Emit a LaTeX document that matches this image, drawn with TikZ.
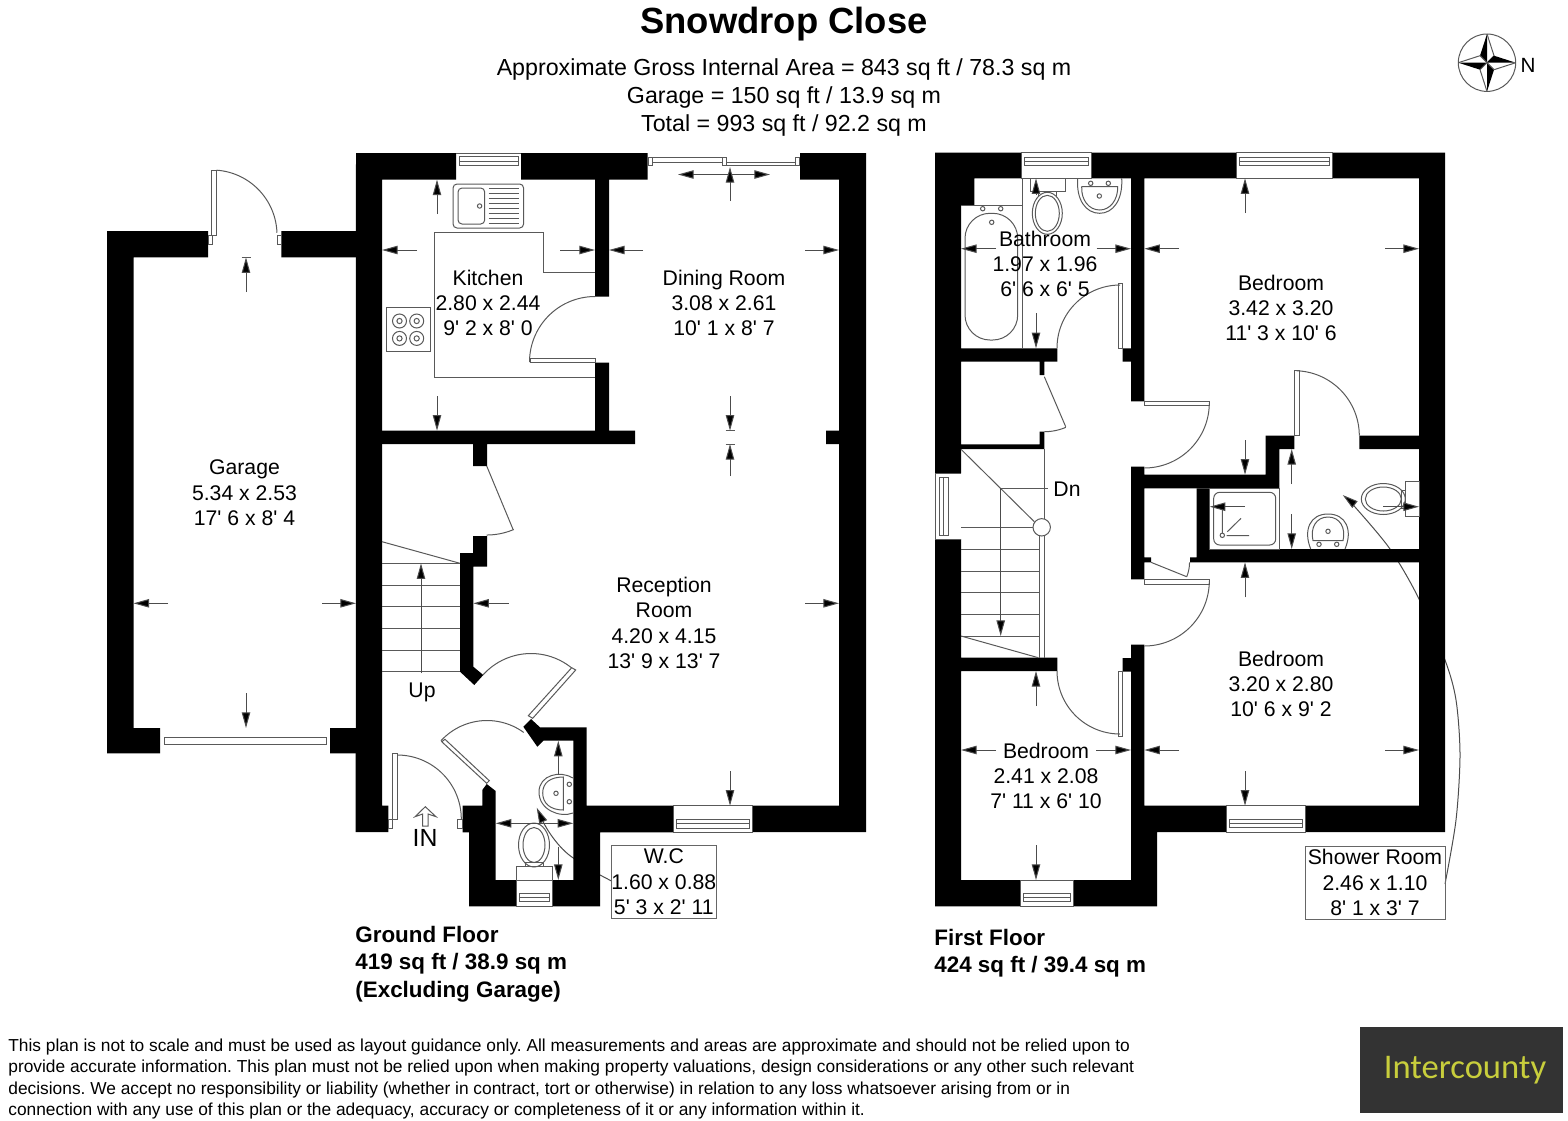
\documentclass[tikz,border=0pt]{standalone}
\usepackage{fontspec}
\setmainfont{Liberation Sans}
\newfontfamily\planfont{Liberation Sans}
\newfontfamily\logofont{Carlito}
\usetikzlibrary{arrows.meta}
\definecolor{logobg}{HTML}{333333}
\definecolor{logotext}{HTML}{C8CE3C}
\tikzset{
  wall/.style={fill=black},
  planline/.style={draw=black!65,line width=0.5pt},
  dimline/.style={draw=black!70,line width=0.5pt,-{Triangle[length=7.8pt,width=4.2pt,fill=black]}},
  dimboth/.style={draw=black!70,line width=0.5pt,{Triangle[length=7.8pt,width=4.2pt,fill=black]}-{Triangle[length=7.8pt,width=4.2pt,fill=black]}},
  roomlabel/.style={font=\planfont\fontsize{10.6}{12.7}\selectfont,align=center,inner sep=0pt},
  boxlabel/.style={roomlabel,draw=black!60,line width=0.5pt,minimum height=36.5pt},
  floorlabel/.style={font=\bfseries\fontsize{11.2}{13.8}\selectfont,align=left,inner sep=0pt,anchor=west}
}
\newcommand{\dimarrow}[4]{\draw[dimline] (#1,#2)--(#3,#4);}
\newcommand{\doorarc}[5]{\draw[planline,domain=#3:#4,samples=30,variable=\t] plot ({#1+#5*cos(\t)},{#2+#5*sin(\t)});}
\newcommand{\winh}[4]{
  \draw[planline] (#1,#3) rectangle (#2,#4);
}
\newcommand{\winbar}[4]{
  \draw[planline] (#1+3,#3) rectangle (#2-3,#4) (#1+3,{(#3+#4)/2})--(#2-3,{(#3+#4)/2});
}
\newcommand{\ringhob}[2]{\draw[planline] (#1,#2) circle [radius=7] (#1,#2) circle [radius=2.6];}
\newcommand{\tap}[2]{\draw[planline] (#1,#2) circle [radius=2.2];}

\begin{document}
\begin{tikzpicture}[x=0.5pt,y=-0.5pt]
  \useasboundingbox (0,0) rectangle (1568,1120);

  \node[font=\bfseries\fontsize{18.2}{22}\selectfont,inner sep=0pt] (title) at (784,24) {Snowdrop Close};
  \node[font=\fontsize{11.6}{14}\selectfont,align=center,inner sep=0pt] (areas) at (784,97) {Approximate Gross Internal Area = 843 sq ft / 78.3 sq m\\Garage = 150 sq ft / 13.9 sq m\\Total = 993 sq ft / 92.2 sq m};

  \begin{scope}[shift={(1487,62.7)}]
    \draw[planline] (0,0) circle [radius=28.7];
    \foreach \a in {0,90,180,270} {
      \begin{scope}[rotate=\a]
        \fill[black] (0,-28.7)--(-7,-7)--(0,0)--cycle;
        \draw[planline] (0,-28.7)--(7,-7)--(0,0);
      \end{scope}
    }
  \end{scope}
  \node[font=\fontsize{10.3}{12}\selectfont,inner sep=0pt] (north) at (1528,65) {N};

  \draw[dimline] (611.5,881)--(600,875)--(573.3,858) .. controls (558,848) and (546,828) .. (536.7,807.7);
  \draw[dimline] plot[smooth] coordinates {(1445,884) (1456,820) (1460,755) (1456,700) (1445,660) (1418,597) (1390,549) (1355,507) (1342.7,495)};

  \fill[wall] (356,153)--(456,153)--(456,179.6)--(382,179.6)--(382,805.7)--(388.3,805.7)--(388.3,832)--(355.7,832)--cycle;
  \fill[wall] (521,153)--(647.6,153)--(647.6,179.6)--(609,179.6)--(609,296.5)--(595,296.5)--(595,179.6)--(521,179.6)--cycle;
  \fill[wall] (595,362.5)--(609,362.5)--(609,430.7)--(635,430.7)--(635,444)--(487,444)--(487,466)--(473,466)--(473,444)--(382,444)--(382,430.7)--(595,430.7)--cycle;
  \fill[wall] (800,153)--(866,153)--(866,832)--(752,832)--(752,805.7)--(839,805.7)--(839,444)--(826,444)--(826,430.7)--(839,430.7)--(839,179.6)--(800,179.6)--cycle;
  \fill[wall] (107,231)--(208,231)--(208,257.3)--(133.5,257.3)--(133.5,728)--(160,728)--(160,753.3)--(107,753.3)--cycle;
  \fill[wall] (281.3,231) rectangle (356,257.3) (330,728) rectangle (356,753.3);
  \fill[wall] (473,536)--(487,536)--(487,566.7)--(473.3,566.7)--(473.3,666.7)--(483.3,675)--(474.3,685)--(460,671.7)--(460,553)--(473,553)--cycle;
  \fill[wall] (462.7,805.7)--(482.3,805.7)--(482.3,790)--(486.7,784)--(495.7,791)--(495.7,880)--(516.7,880)--(516.7,906.3)--(469,906.3)--(469,832.3)--(462.7,832.3)--cycle;
  \fill[wall] (523.3,726.7)--(531,719)--(540,727.3)--(586.7,727.3)--(586.7,805.7)--(673.3,805.7)--(673.3,832.3)--(600,832.3)--(600,906.3)--(552,906.3)--(552,880)--(573.3,880)--(573.3,740.7)--(543.3,740.7)--(537.3,746.7)--cycle;

  \fill[wall] (935,152.5)--(1021.7,152.5)--(1021.7,178.3)--(974.3,178.3)--(974.3,205)--(961,205)--(961,348.3)--(1057.3,348.3)--(1057.3,361.7)--(1044.3,361.7)--(1044.3,375)--(1039.7,375)--(1039.7,361.7)--(961,361.7)--(961,444.3)--(1039.7,444.3)--(1039.7,431.7)--(1044.3,431.7)--(1044.3,449)--(961,449)--(961,473.3)--(935,473.3)--cycle;
  \fill[wall] (935,539)--(961,539)--(961,657.7)--(1057.3,657.7)--(1057.3,671)--(961,671)--(961,880)--(1020,880)--(1020,906.3)--(935,906.3)--cycle;
  \fill[wall] (1091.7,152.5)--(1236,152.5)--(1236,178.3)--(1144.3,178.3)--(1144.3,401.3)--(1131,401.3)--(1131,361.7)--(1122.7,361.7)--(1122.7,348.3)--(1131,348.3)--(1131,178.3)--(1091.7,178.3)--cycle;
  \fill[wall] (1332,152.5)--(1445,152.5)--(1445,832)--(1305,832)--(1305,805.7)--(1419,805.7)--(1419,562.3)--(1190,562.3)--(1190,557.3)--(1196.7,557.3)--(1196.7,488.3)--(1209.7,488.3)--(1209.7,549)--(1419,549)--(1419,449)--(1359.3,449)--(1359.3,435.7)--(1419,435.7)--(1419,178.3)--(1332,178.3)--cycle;
  \fill[wall] (1131,466.7)--(1144.3,466.7)--(1144.3,474.7)--(1265.7,474.7)--(1265.7,435.7)--(1294.3,435.7)--(1294.3,449)--(1279.3,449)--(1279.3,488.3)--(1144.3,488.3)--(1144.3,557.3)--(1151,557.3)--(1151,562.3)--(1144.3,562.3)--(1144.3,579.3)--(1131,579.3)--cycle;
  \fill[wall] (1131,644.7)--(1144.3,644.7)--(1144.3,805.7)--(1226,805.7)--(1226,832)--(1157,832)--(1157,906.3)--(1073,906.3)--(1073,880)--(1131,880)--(1131,671.5)--(1122.7,671.5)--(1122.7,658)--(1131,658)--cycle;

  \draw[planline] (456,153)--(521,153) (459,156.5) rectangle (518,165.5) (459,161)--(518,161);
  \winh{673.3}{752}{805.7}{832.3}\winbar{673.3}{752}{819.3}{828.3}
  \winh{516.7}{552}{866.7}{906.3}\winbar{516.7}{552}{893.3}{901.7}
  \winh{1021.7}{1091.7}{152.5}{178.3}\winbar{1021.7}{1091.7}{157.7}{165.7}
  \winh{1236}{1332}{152.5}{178.3}\winbar{1236}{1332}{157.7}{165.7}
  \winh{1020}{1073}{880}{906.3}\winbar{1020}{1073}{893}{901.7}
  \winh{1226}{1305}{805.7}{832}\winbar{1226}{1305}{819}{827.5}
  \draw[planline] (935,473.3)--(961,473.3) (935,539)--(961,539) (935,473.3)--(935,539) (939.3,477.3) rectangle (948.3,535) (943.8,477.3)--(943.8,535);

  \draw[planline] (648,157) rectangle (652,165.4) (652,157.5)--(722,157.5) (652,162)--(722,162) (722,157) rectangle (726.4,165.4) (726.4,162)--(795.7,162) (726.4,165.4)--(795.7,165.4) (795.7,157) rectangle (799.8,165.4);
  \draw[dimboth] (678,174.5)--(770,174.5);

  \draw[planline] (434.3,232)--(543.5,232)--(543.5,272)--(595,272) (434.3,232)--(434.3,377.7)--(595,377.7);
  \draw[planline] (530,358.4) rectangle (595,362.5);
  \doorarc{595}{362}{180}{270}{65.5}
  \draw[planline,rounded corners=2pt] (453,184) rectangle (523.6,228) (458,188) rectangle (484.7,224);
  \tap{479.6}{206}
  \foreach \ypos in {188,193,...,224} {
    \draw[planline] (488.7,\ypos)--(519,\ypos);
  }
  \draw[planline] (386.3,307.3) rectangle (430,351.6);
  \ringhob{399.5}{321}\ringhob{416.7}{321}\ringhob{399.5}{338.4}\ringhob{416.7}{338.4}

  \foreach \ypos in {563.3,585,606.7,628.3,650,671.7} {
    \draw[planline] (382,\ypos)--(460,\ypos);
  }
  \draw[planline] (382,541.7)--(460,563.3);
  \dimarrow{421}{673}{421}{563.3}
  \node[roomlabel] (uplabel) at (422,692) {Up};

  \draw[planline] (486.7,466)--(513.3,530);
  \doorarc{486.7}{466}{67}{90}{69}

  \draw[planline] (571.7,667.7)--(575.7,670)--(532.7,718.3)--(528.3,715.7)--cycle;
  \doorarc{531}{718}{222}{309}{64.5}
  \draw[planline] (441.7,741.7)--(445,739.3)--(489.3,780.7)--(486.7,783.3)--cycle;
  \doorarc{487}{783}{222.5}{306}{62.5}

  \draw[planline] (392.3,753) rectangle (397.3,819) (388.3,819) rectangle (392.3,828) (457.7,819) rectangle (462.7,828);
  \doorarc{397.3}{819}{270}{360}{64}
  \draw[planline] (415,816.7)--(425.3,806.7)--(436,816.7)--(428,814)--(428,826)--(422.7,826)--(422.7,814)--cycle;
  \node[font=\fontsize{12.4}{14}\selectfont,inner sep=0pt] (inlabel) at (425,838) {IN};

  \draw[planline] (573,778) .. controls (560,770) and (539,775) .. (539,792) .. controls (539,810) and (560,818) .. (573,813);
  \draw[planline] (563.3,777) .. controls (550,777) and (542.7,783) .. (542.7,793) .. controls (542.7,803) and (550,810) .. (563.3,810)--cycle;
  \tap{556}{793.3}\tap{569.3}{784.3}\tap{569.3}{801.7}
  \draw[planline] (534,845) ellipse [x radius=15.5,y radius=22] (534,845) ellipse [x radius=11,y radius=17.5];
  \draw[planline] (525.7,862.7) rectangle (543.3,866.7) (516.7,880)--(552,880);

  \draw[planline] (164,737) rectangle (326,744);
  \draw[planline] (211.7,170) rectangle (216.3,235.3) (208.3,235.3) rectangle (212.3,244.7) (277.3,235.3) rectangle (281.3,244.7);
  \doorarc{212}{235}{274}{358}{65}

  \draw[planline] (961,205)--(1022.3,205) (1022.3,178.3)--(1022.3,348.3);
  \draw[planline,rounded corners=12.5pt] (965,213.3) rectangle (1017.7,340);
  \tap{982.7}{208.7}\tap{1000.7}{208.7}\tap{991.7}{222.3}
  \draw[planline] (1030.3,178.3) rectangle (1065,191) (1038.3,191) rectangle (1056.7,196.7);
  \draw[fill=white,planline] (1047.3,213.3) ellipse [x radius=15,y radius=21];
  \draw[planline] (1047.3,213.3) ellipse [x radius=12,y radius=18];
  \draw[planline] (1077.7,178.3) .. controls (1076,200) and (1086,213.3) .. (1099.7,213.3) .. controls (1113,213.3) and (1123,200) .. (1121.7,178.3);
  \draw[planline] (1081.7,186.7)--(1117.7,186.7) .. controls (1118,200) and (1110,210) .. (1099.7,210) .. controls (1089,210) and (1081,200) .. (1081.7,186.7);
  \tap{1090.7}{183.3}\tap{1108.3}{183.3}\tap{1099.3}{196}

  \draw[planline] (1118.3,283.3) rectangle (1122.7,348.3);
  \doorarc{1120}{348}{180}{270}{63}
  \draw[planline] (1144.3,401.3) rectangle (1209.3,405.3);
  \doorarc{1144.3}{403}{0}{90}{65}
  \draw[planline] (1044.3,376.7)--(1065.7,426.7);
  \doorarc{1044.3}{376.7}{67}{90}{55}
  \draw[planline] (1144.3,579.3) rectangle (1209.3,584);
  \doorarc{1144.3}{581}{0}{90}{65}
  \draw[planline] (1118.3,671) rectangle (1122.7,736);
  \doorarc{1120}{671}{90}{180}{63}
  \draw[planline] (1294.3,370) rectangle (1299,435.7);
  \doorarc{1294.3}{435.7}{272}{360}{65}
  \draw[planline] (1151,562.3)--(1186.7,576.7);
  \doorarc{1151}{562.3}{22}{0}{38.5}

  \foreach \ypos in {549.3,571,592.7,614.3,636} {
    \draw[planline] (961,\ypos)--(1039.7,\ypos);
  }
  \draw[planline] (961,527.3)--(1033,527.3);
  \draw[planline] (961,449.3)--(1034.3,521.7) (961,636)--(1038.3,657.7);
  \draw[planline] (1044.3,449)--(1044.3,519) (1039.7,535)--(1039.7,657.7) (1044.3,535)--(1044.3,657.7);
  \draw[planline] (1041.7,527.3) circle [radius=8.7];
  \draw[planline] (1000.7,488.3)--(1048.3,488.3);
  \dimarrow{1000.7}{488.3}{1000.7}{636}
  \node[roomlabel] (dnlabel) at (1067,489) {Dn};

  \draw[planline] (1209.7,488.3) rectangle (1279.3,549);
  \draw[planline,rounded corners=3pt] (1213.7,492.3) rectangle (1275.7,545);
  \tap{1222.3}{535.3}
  \draw[planline] (1222.3,508.3)--(1222.3,533) (1227.3,531.7)--(1241,518.3) (1226.7,535.7)--(1249,535.7);
  \draw[planline] (1405.7,481.7) rectangle (1419,516) (1401.7,490) rectangle (1405.7,508);
  \draw[planline] (1383.3,499) ellipse [x radius=22,y radius=15.5] (1383.3,499) ellipse [x radius=18,y radius=12];
  \draw[planline] (1310.7,549) .. controls (1303,530) and (1310,514) .. (1328,514) .. controls (1346,514) and (1353,530) .. (1345,549);
  \draw[planline] (1313,540.7) .. controls (1310,528) and (1316,517) .. (1328,517) .. controls (1340,517) and (1346,528) .. (1343,540.7)--cycle;
  \tap{1328}{531.3}\tap{1319}{544.3}\tap{1336.7}{544.3}

  \foreach \xa/\ya/\xb/\yb in {437/214/437/179.6,437/396/437/430.7,417/250/382/250,560/250/595/250,643/250/609/250,805/250/839/250,730/201/730/167,730/396/730/430.7,730/476/730/444,508.7/603.3/473.3/603.3,805/603.3/839/603.3,730/771/730/805.7,168/603.3/133.5/603.3,322/603.3/356/603.3,246/292/246/257.3,246/693/246/728,558.3/775/558.3/740.7,558.3/846.7/558.3/880,996/248.7/961/248.7,1096.7/248.7/1131/248.7,1179/248.7/1144.3/248.7,1385/248.7/1419/248.7,1036/195/1036/178.3,1036/313.3/1036/348.3,1245/213/1245/178.3,1245/440/1245/474.7,1245/597.3/1245/562.3,1291.7/484/1291.7/449,1291.7/514/1291.7/549,1245/506.7/1209.7/506.7,1383.3/506.7/1419/506.7,1036/706/1036/671,1036/845/1036/880,996/750/961/750,1096/750/1131/750,1179/750/1144.3/750,1385/750/1419/750,1245/771/1245/805.7} {
    \dimarrow{\xa}{\ya}{\xb}{\yb}
  }
  \draw[dimboth] (495.7,823.3)--(573.3,823.3);
  \draw[planline] (725.5,430.7)--(734.5,430.7) (725.5,444)--(734.5,444) (241.5,257.3)--(250.5,257.3);

  \node[roomlabel] (kitchenlabel) at (488,303) {Kitchen\\2.80 x 2.44\\9' 2 x 8' 0};
  \node[roomlabel] (dininglabel) at (724,303) {Dining Room\\3.08 x 2.61\\10' 1 x 8' 7};
  \node[roomlabel] (garagelabel) at (244.5,493) {Garage\\5.34 x 2.53\\17' 6 x 8' 4};
  \node[roomlabel] (receptionlabel) at (664,623) {Reception\\Room\\4.20 x 4.15\\13' 9 x 13' 7};
  \node[roomlabel] (bathroomlabel) at (1045,264) {Bathroom\\1.97 x 1.96\\6' 6 x 6' 5};
  \node[roomlabel] (bedroomone) at (1281,308) {Bedroom\\3.42 x 3.20\\11' 3 x 10' 6};
  \node[roomlabel] (bedroomtwo) at (1281,684) {Bedroom\\3.20 x 2.80\\10' 6 x 9' 2};
  \node[roomlabel] (bedroomthree) at (1046,776) {Bedroom\\2.41 x 2.08\\7' 11 x 6' 10};
  \node[boxlabel,minimum width=52pt] (wclabel) at (663.8,882) {W.C\\1.60 x 0.88\\5' 3 x 2' 11};
  \node[boxlabel,minimum width=70pt] (showerlabel) at (1375,882.5) {Shower Room\\2.46 x 1.10\\8' 1 x 3' 7};

  \node[floorlabel] (groundlabel) at (355,964) {Ground Floor\\419 sq ft / 38.9 sq m\\(Excluding Garage)};
  \node[floorlabel] (firstlabel) at (934,953) {First Floor\\424 sq ft / 39.4 sq m};

  \node[font=\frenchspacing\fontsize{8.67}{10.55}\selectfont,align=left,anchor=west,inner sep=0pt] (disclaimer) at (8,1079) {This plan is not to scale and must be used as layout guidance only. All measurements and areas are approximate and should not be relied upon to\\provide accurate information. This plan must not be relied upon when making property valuations, design considerations or any other such relevant\\decisions. We accept no responsibility or liability (whether in contract, tort or otherwise) in relation to any loss whatsoever arising from or in\\connection with any use of this plan or the adequacy, accuracy or completeness of it or any information within it.};

  \fill[logobg] (1360,1027) rectangle (1563,1113);
  \node[font=\logofont\fontsize{17.3}{20}\selectfont,text=logotext,inner sep=0pt] (logotype) at (1465,1070) {Intercounty};
\end{tikzpicture}
\end{document}
